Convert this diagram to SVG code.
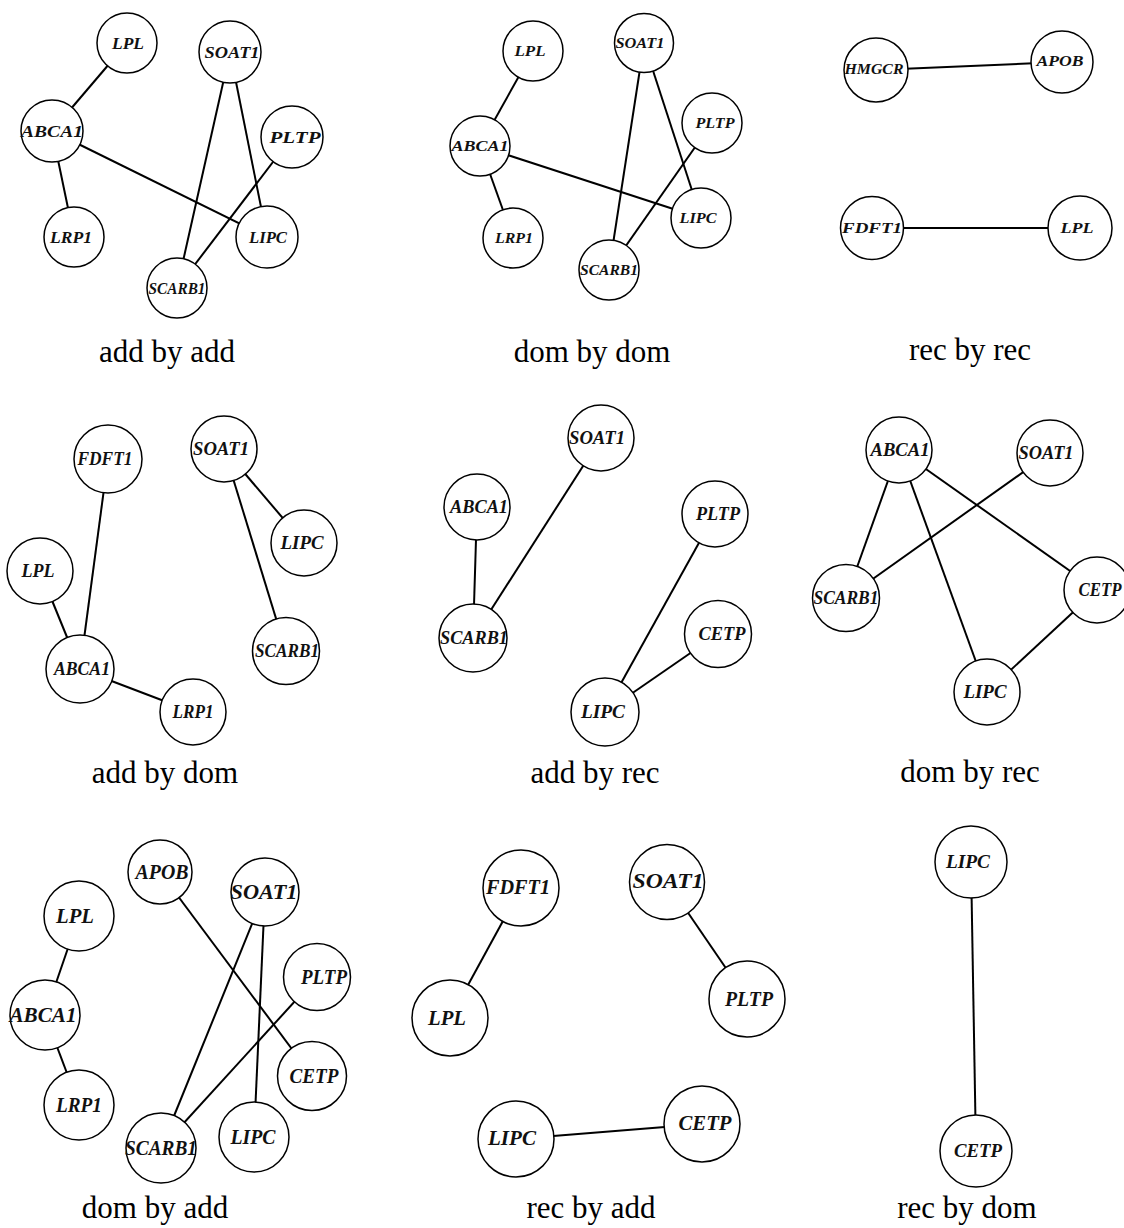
<svg xmlns="http://www.w3.org/2000/svg" width="1124" height="1228" viewBox="0 0 1124 1228">
  <style>
    .edge { stroke: #000; stroke-width: 2; fill: none; }
    .node circle { fill: #fff; stroke: #000; stroke-width: 1.5; }
    .node text { font-family: "Liberation Serif", "Times New Roman", serif; font-style: italic; font-weight: bold; text-anchor: middle; fill: #111; }
    .s15 .node text { font-size: 15px; }
    .s17 .node text { font-size: 17px; }
    .s18 .node text { font-size: 18px; }
    .s19 .node text { font-size: 19px; }
    .s20 .node text { font-size: 20px; }
    .title { font-family: "Liberation Serif", "Times New Roman", serif; font-size: 31px; text-anchor: middle; fill: #000; }
  </style>
  <rect width="1124" height="1228" fill="#fff"/>

  <!-- add by add -->
  <g id="panel-add-add" class="s17">
    <g id="add-add-edges">
      <line class="edge" x1="127" y1="43" x2="52" y2="131"/>
      <line class="edge" x1="52" y1="131" x2="74" y2="237"/>
      <line class="edge" x1="52" y1="131" x2="267" y2="237"/>
      <line class="edge" x1="230" y1="52" x2="177" y2="288"/>
      <line class="edge" x1="230" y1="52" x2="267" y2="237"/>
      <line class="edge" x1="292" y1="137" x2="177" y2="288"/>
    </g>
    <g id="add-add-LPL" class="node"><circle cx="127" cy="43" r="30"/><text x="128" y="49" textLength="32" lengthAdjust="spacingAndGlyphs">LPL</text></g>
    <g id="add-add-SOAT1" class="node"><circle cx="230" cy="52" r="31"/><text x="232" y="58" textLength="55" lengthAdjust="spacingAndGlyphs">SOAT1</text></g>
    <g id="add-add-ABCA1" class="node"><circle cx="52" cy="131" r="31"/><text x="52" y="137" textLength="62" lengthAdjust="spacingAndGlyphs">ABCA1</text></g>
    <g id="add-add-PLTP" class="node"><circle cx="292" cy="137" r="31"/><text x="295" y="143" textLength="51" lengthAdjust="spacingAndGlyphs">PLTP</text></g>
    <g id="add-add-LRP1" class="node"><circle cx="74" cy="237" r="30"/><text x="71" y="243" textLength="42" lengthAdjust="spacingAndGlyphs">LRP1</text></g>
    <g id="add-add-LIPC" class="node"><circle cx="267" cy="237" r="31"/><text x="268" y="243" textLength="38" lengthAdjust="spacingAndGlyphs">LIPC</text></g>
    <g id="add-add-SCARB1" class="node"><circle cx="177" cy="288" r="30"/><text x="177" y="294" textLength="57" lengthAdjust="spacingAndGlyphs">SCARB1</text></g>
    <text class="title" x="167" y="362">add by add</text>
  </g>

  <!-- dom by dom -->
  <g id="panel-dom-dom" class="s15">
    <g id="dom-dom-edges">
      <line class="edge" x1="533" y1="51" x2="480" y2="146"/>
      <line class="edge" x1="480" y1="146" x2="513" y2="238"/>
      <line class="edge" x1="480" y1="146" x2="701" y2="218"/>
      <line class="edge" x1="644" y1="43" x2="609" y2="270"/>
      <line class="edge" x1="644" y1="43" x2="701" y2="218"/>
      <line class="edge" x1="712" y1="123" x2="609" y2="270"/>
    </g>
    <g id="dom-dom-LPL" class="node"><circle cx="533" cy="51" r="30"/><text x="530" y="56" textLength="31" lengthAdjust="spacingAndGlyphs">LPL</text></g>
    <g id="dom-dom-SOAT1" class="node"><circle cx="644" cy="43" r="29.5"/><text x="640" y="48" textLength="49" lengthAdjust="spacingAndGlyphs">SOAT1</text></g>
    <g id="dom-dom-PLTP" class="node"><circle cx="712" cy="123" r="30"/><text x="715" y="128" textLength="39" lengthAdjust="spacingAndGlyphs">PLTP</text></g>
    <g id="dom-dom-ABCA1" class="node"><circle cx="480" cy="146" r="30"/><text x="480" y="151" textLength="57" lengthAdjust="spacingAndGlyphs">ABCA1</text></g>
    <g id="dom-dom-LIPC" class="node"><circle cx="701" cy="218" r="30"/><text x="698" y="223" textLength="37" lengthAdjust="spacingAndGlyphs">LIPC</text></g>
    <g id="dom-dom-LRP1" class="node"><circle cx="513" cy="238" r="30"/><text x="514" y="243" textLength="38" lengthAdjust="spacingAndGlyphs">LRP1</text></g>
    <g id="dom-dom-SCARB1" class="node"><circle cx="609" cy="270" r="30"/><text x="609" y="275" textLength="58" lengthAdjust="spacingAndGlyphs">SCARB1</text></g>
    <text class="title" x="592" y="362">dom by dom</text>
  </g>

  <!-- rec by rec -->
  <g id="panel-rec-rec" class="s15">
    <g id="rec-rec-edges">
      <line class="edge" x1="876" y1="70" x2="1062" y2="62"/>
      <line class="edge" x1="872" y1="228" x2="1080" y2="228"/>
    </g>
    <g id="rec-rec-HMGCR" class="node"><circle cx="876" cy="70" r="32"/><text x="874" y="74" textLength="59" lengthAdjust="spacingAndGlyphs">HMGCR</text></g>
    <g id="rec-rec-APOB" class="node"><circle cx="1062" cy="62" r="31"/><text x="1060" y="66" textLength="47" lengthAdjust="spacingAndGlyphs">APOB</text></g>
    <g id="rec-rec-FDFT1" class="node"><circle cx="872" cy="228" r="31.5"/><text x="872" y="233" textLength="60" lengthAdjust="spacingAndGlyphs">FDFT1</text></g>
    <g id="rec-rec-LPL" class="node"><circle cx="1080" cy="228" r="32"/><text x="1077" y="233" textLength="33" lengthAdjust="spacingAndGlyphs">LPL</text></g>
    <text class="title" x="970" y="360">rec by rec</text>
  </g>

  <!-- add by dom -->
  <g id="panel-add-dom" class="s19">
    <g id="add-dom-edges">
      <line class="edge" x1="108" y1="459" x2="80" y2="669"/>
      <line class="edge" x1="40" y1="571" x2="80" y2="669"/>
      <line class="edge" x1="80" y1="669" x2="193" y2="712"/>
      <line class="edge" x1="224" y1="449" x2="304" y2="543"/>
      <line class="edge" x1="224" y1="449" x2="286" y2="651"/>
    </g>
    <g id="add-dom-FDFT1" class="node"><circle cx="108" cy="459" r="34"/><text x="105" y="465" textLength="55" lengthAdjust="spacingAndGlyphs">FDFT1</text></g>
    <g id="add-dom-SOAT1" class="node"><circle cx="224" cy="449" r="33"/><text x="221" y="455" textLength="56" lengthAdjust="spacingAndGlyphs">SOAT1</text></g>
    <g id="add-dom-LIPC" class="node"><circle cx="304" cy="543" r="33"/><text x="302" y="549" textLength="43" lengthAdjust="spacingAndGlyphs">LIPC</text></g>
    <g id="add-dom-LPL" class="node"><circle cx="40" cy="571" r="33"/><text x="38" y="577" textLength="33" lengthAdjust="spacingAndGlyphs">LPL</text></g>
    <g id="add-dom-SCARB1" class="node"><circle cx="286" cy="651" r="33.5"/><text x="287" y="657" textLength="64" lengthAdjust="spacingAndGlyphs">SCARB1</text></g>
    <g id="add-dom-ABCA1" class="node"><circle cx="80" cy="669" r="34"/><text x="82" y="675" textLength="56" lengthAdjust="spacingAndGlyphs">ABCA1</text></g>
    <g id="add-dom-LRP1" class="node"><circle cx="193" cy="712" r="33"/><text x="193" y="718" textLength="41" lengthAdjust="spacingAndGlyphs">LRP1</text></g>
    <text class="title" x="165" y="783">add by dom</text>
  </g>

  <!-- add by rec -->
  <g id="panel-add-rec" class="s19">
    <g id="add-rec-edges">
      <line class="edge" x1="477" y1="507" x2="473" y2="638"/>
      <line class="edge" x1="601" y1="438" x2="473" y2="638"/>
      <line class="edge" x1="715" y1="514" x2="605" y2="712"/>
      <line class="edge" x1="718" y1="634" x2="605" y2="712"/>
    </g>
    <g id="add-rec-SOAT1" class="node"><circle cx="601" cy="438" r="33"/><text x="597" y="444" textLength="56" lengthAdjust="spacingAndGlyphs">SOAT1</text></g>
    <g id="add-rec-ABCA1" class="node"><circle cx="477" cy="507" r="33"/><text x="479" y="513" textLength="58" lengthAdjust="spacingAndGlyphs">ABCA1</text></g>
    <g id="add-rec-PLTP" class="node"><circle cx="715" cy="514" r="33"/><text x="718" y="520" textLength="44" lengthAdjust="spacingAndGlyphs">PLTP</text></g>
    <g id="add-rec-SCARB1" class="node"><circle cx="473" cy="638" r="34"/><text x="474" y="644" textLength="68" lengthAdjust="spacingAndGlyphs">SCARB1</text></g>
    <g id="add-rec-CETP" class="node"><circle cx="718" cy="634" r="33.5"/><text x="722" y="640" textLength="47" lengthAdjust="spacingAndGlyphs">CETP</text></g>
    <g id="add-rec-LIPC" class="node"><circle cx="605" cy="712" r="34"/><text x="603" y="718" textLength="44" lengthAdjust="spacingAndGlyphs">LIPC</text></g>
    <text class="title" x="595" y="783">add by rec</text>
  </g>

  <!-- dom by rec -->
  <g id="panel-dom-rec" class="s18">
    <g id="dom-rec-edges">
      <line class="edge" x1="899" y1="450" x2="846" y2="598"/>
      <line class="edge" x1="899" y1="450" x2="987" y2="692"/>
      <line class="edge" x1="899" y1="450" x2="1097" y2="590"/>
      <line class="edge" x1="1050" y1="453" x2="846" y2="598"/>
      <line class="edge" x1="1097" y1="590" x2="987" y2="692"/>
    </g>
    <g id="dom-rec-ABCA1" class="node"><circle cx="899" cy="450" r="33"/><text x="900" y="456" textLength="59" lengthAdjust="spacingAndGlyphs">ABCA1</text></g>
    <g id="dom-rec-SOAT1" class="node"><circle cx="1050" cy="453" r="33"/><text x="1046" y="459" textLength="55" lengthAdjust="spacingAndGlyphs">SOAT1</text></g>
    <g id="dom-rec-SCARB1" class="node"><circle cx="846" cy="598" r="33.5"/><text x="846" y="604" textLength="65" lengthAdjust="spacingAndGlyphs">SCARB1</text></g>
    <g id="dom-rec-CETP" class="node"><circle cx="1097" cy="590" r="33"/><text x="1100" y="596" textLength="43" lengthAdjust="spacingAndGlyphs">CETP</text></g>
    <g id="dom-rec-LIPC" class="node"><circle cx="987" cy="692" r="33"/><text x="985" y="698" textLength="43" lengthAdjust="spacingAndGlyphs">LIPC</text></g>
    <text class="title" x="970" y="782">dom by rec</text>
  </g>

  <!-- dom by add -->
  <g id="panel-dom-add" class="s20">
    <g id="dom-add-edges">
      <line class="edge" x1="79" y1="916" x2="45" y2="1015"/>
      <line class="edge" x1="45" y1="1015" x2="79" y2="1105"/>
      <line class="edge" x1="160" y1="872" x2="312" y2="1076"/>
      <line class="edge" x1="265" y1="892" x2="161" y2="1148"/>
      <line class="edge" x1="265" y1="892" x2="254" y2="1137"/>
      <line class="edge" x1="317" y1="977" x2="161" y2="1148"/>
    </g>
    <g id="dom-add-APOB" class="node"><circle cx="160" cy="872" r="32"/><text x="162" y="879" textLength="53" lengthAdjust="spacingAndGlyphs">APOB</text></g>
    <g id="dom-add-SOAT1" class="node"><circle cx="265" cy="892" r="34"/><text x="264" y="899" textLength="67" lengthAdjust="spacingAndGlyphs">SOAT1</text></g>
    <g id="dom-add-LPL" class="node"><circle cx="79" cy="916" r="35"/><text x="75" y="923" textLength="38" lengthAdjust="spacingAndGlyphs">LPL</text></g>
    <g id="dom-add-PLTP" class="node"><circle cx="317" cy="977" r="33.5"/><text x="324" y="984" textLength="46" lengthAdjust="spacingAndGlyphs">PLTP</text></g>
    <g id="dom-add-ABCA1" class="node"><circle cx="45" cy="1015" r="35"/><text x="43" y="1022" textLength="67" lengthAdjust="spacingAndGlyphs">ABCA1</text></g>
    <g id="dom-add-CETP" class="node"><circle cx="312" cy="1076" r="34.5"/><text x="314" y="1083" textLength="49" lengthAdjust="spacingAndGlyphs">CETP</text></g>
    <g id="dom-add-LRP1" class="node"><circle cx="79" cy="1105" r="35"/><text x="79" y="1112" textLength="46" lengthAdjust="spacingAndGlyphs">LRP1</text></g>
    <g id="dom-add-LIPC" class="node"><circle cx="254" cy="1137" r="35"/><text x="253" y="1144" textLength="45" lengthAdjust="spacingAndGlyphs">LIPC</text></g>
    <g id="dom-add-SCARB1" class="node"><circle cx="161" cy="1148" r="35"/><text x="161" y="1155" textLength="72" lengthAdjust="spacingAndGlyphs">SCARB1</text></g>
    <text class="title" x="155" y="1218">dom by add</text>
  </g>

  <!-- rec by add -->
  <g id="panel-rec-add" class="s20">
    <g id="rec-add-edges">
      <line class="edge" x1="521" y1="888" x2="450" y2="1018"/>
      <line class="edge" x1="667" y1="882" x2="747" y2="999"/>
      <line class="edge" x1="516" y1="1139" x2="702" y2="1124"/>
    </g>
    <g id="rec-add-FDFT1" class="node"><circle cx="521" cy="888" r="38"/><text x="518" y="894" textLength="64" lengthAdjust="spacingAndGlyphs">FDFT1</text></g>
    <g id="rec-add-SOAT1" class="node"><circle cx="667" cy="882" r="37.5"/><text x="668" y="888" textLength="71" lengthAdjust="spacingAndGlyphs">SOAT1</text></g>
    <g id="rec-add-LPL" class="node"><circle cx="450" cy="1018" r="38"/><text x="447" y="1025" textLength="38" lengthAdjust="spacingAndGlyphs">LPL</text></g>
    <g id="rec-add-PLTP" class="node"><circle cx="747" cy="999" r="38"/><text x="749" y="1006" textLength="48" lengthAdjust="spacingAndGlyphs">PLTP</text></g>
    <g id="rec-add-LIPC" class="node"><circle cx="516" cy="1139" r="38"/><text x="512" y="1145" textLength="48" lengthAdjust="spacingAndGlyphs">LIPC</text></g>
    <g id="rec-add-CETP" class="node"><circle cx="702" cy="1124" r="38"/><text x="705" y="1130" textLength="53" lengthAdjust="spacingAndGlyphs">CETP</text></g>
    <text class="title" x="591" y="1218">rec by add</text>
  </g>

  <!-- rec by dom -->
  <g id="panel-rec-dom" class="s19">
    <g id="rec-dom-edges">
      <line class="edge" x1="971" y1="862" x2="976" y2="1151"/>
    </g>
    <g id="rec-dom-LIPC" class="node"><circle cx="971" cy="862" r="36"/><text x="968" y="868" textLength="44" lengthAdjust="spacingAndGlyphs">LIPC</text></g>
    <g id="rec-dom-CETP" class="node"><circle cx="976" cy="1151" r="36"/><text x="978" y="1157" textLength="48" lengthAdjust="spacingAndGlyphs">CETP</text></g>
    <text class="title" x="967" y="1218">rec by dom</text>
  </g>
</svg>
